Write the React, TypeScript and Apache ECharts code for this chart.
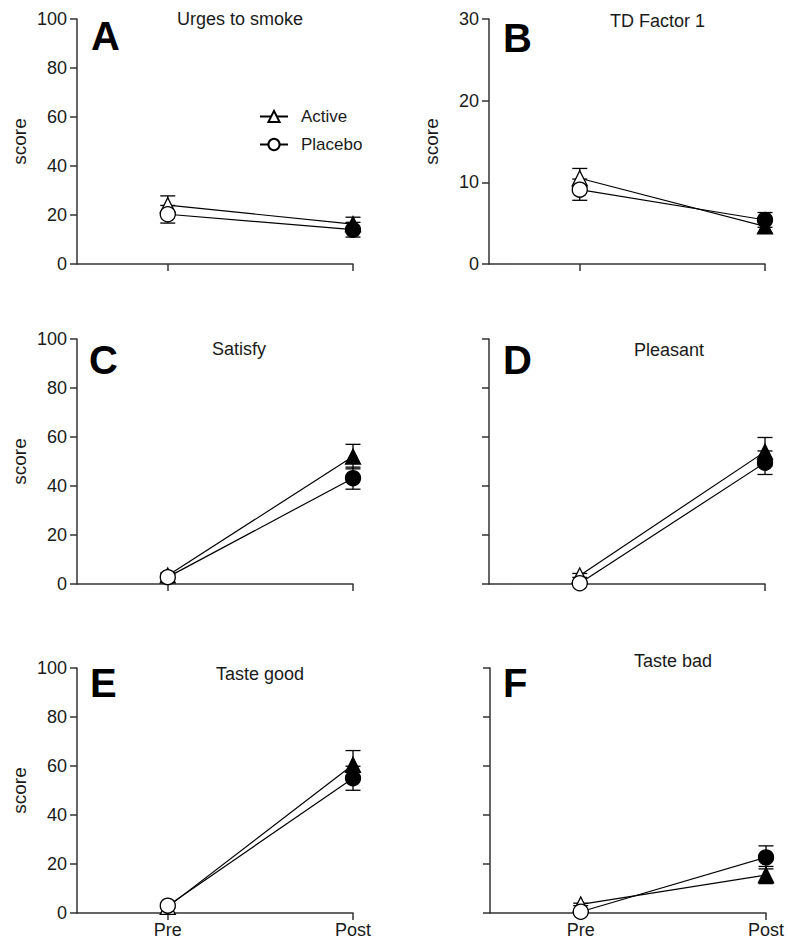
import React, { useEffect, useRef } from 'react';
import * as echarts from 'echarts';

const panelLetters = ['A', 'B', 'C', 'D', 'E', 'F'];
const panelTitles = ['Urges to smoke', 'TD Factor 1', 'Satisfy', 'Pleasant', 'Taste good', 'Taste bad'];
const timepoints = ['Pre', 'Post'];
const seriesNames = ['Active', 'Placebo'];
const yMax = [100, 30, 100, 100, 100, 100];
const yStep = [20, 10, 20, 20, 20, 20];
// [Pre, Post] per panel
const activeMean = [[24, 16.3], [10.5, 4.6], [3.5, 52], [3.5, 54], [2.5, 60.5], [3.5, 15.5]];
const activeSem = [[3.8, 2.8], [1.2, 0.8], [1, 5], [0.8, 5.8], [0.5, 5.8], [0.5, 3.5]];
const placeboMean = [[20.3, 14], [9.1, 5.4], [2.8, 43.2], [0.3, 49.5], [3, 55], [0.5, 22.7]];
const placeboSem = [[3.6, 3], [1.3, 0.9], [1, 4.5], [0.3, 4.8], [0.5, 4.9], [0.3, 4.7]];

const FONT = '"Liberation Sans", Arial, Helvetica, sans-serif';
const INK = '#1a1a1a';

const layout = [
  { left: 77, top: 19, title: [177, 10], letter: [91, 16], yLabels: true, xLabels: false },
  { left: 489, top: 19, title: [610, 12], letter: [503, 18], yLabels: true, xLabels: false },
  { left: 77, top: 339, title: [212, 340], letter: [89, 340], yLabels: true, xLabels: false },
  { left: 489, top: 339, title: [634, 341], letter: [503, 340], yLabels: false, xLabels: false },
  { left: 77, top: 668, title: [216, 665], letter: [90, 663], yLabels: true, xLabels: true },
  { left: 490, top: 668, title: [634, 652], letter: [503, 663], yLabels: false, xLabels: true },
];
const GRID_W = 276;
const GRID_H = 245;

function buildOption() {
  const grid: any[] = [];
  const xAxis: any[] = [];
  const yAxis: any[] = [];
  const series: any[] = [];
  const title: any[] = [];
  const axisLineStyle = { color: '#333', width: 1.5 };

  layout.forEach((L, i) => {
    grid.push({ left: L.left, top: L.top, width: GRID_W, height: GRID_H, containLabel: false });
    xAxis.push({
      gridIndex: i,
      type: 'value',
      min: -0.49,
      max: 1,
      splitLine: { show: false },
      axisLine: { show: true, onZero: false, lineStyle: axisLineStyle },
      axisTick: { show: true, length: 7, lineStyle: axisLineStyle, customValues: [0, 1] },
      axisLabel: {
        show: L.xLabels,
        customValues: [0, 1],
        formatter: (v: number) => timepoints[Math.round(v)] ?? '',
        fontSize: 18,
        fontFamily: FONT,
        color: INK,
        margin: 8,
      },
    });
    yAxis.push({
      gridIndex: i,
      type: 'value',
      min: 0,
      max: yMax[i],
      interval: yStep[i],
      splitLine: { show: false },
      axisLine: { show: true, onZero: false, lineStyle: axisLineStyle },
      axisTick: { show: true, length: 7, lineStyle: axisLineStyle },
      axisLabel: { show: L.yLabels, fontSize: 18, fontFamily: FONT, color: INK, margin: 10 },
      name: L.yLabels ? 'score' : '',
      nameLocation: 'middle',
      nameGap: 48,
      nameTextStyle: { fontSize: 19, fontFamily: FONT, color: INK },
    });
    title.push({
      text: panelTitles[i],
      left: L.title[0],
      top: L.title[1],
      padding: 0,
      textStyle: { fontSize: 18, fontWeight: 'normal', fontFamily: FONT, color: INK },
    });
    title.push({
      text: panelLetters[i],
      left: L.letter[0],
      top: L.letter[1],
      padding: 0,
      textStyle: { fontSize: 40, fontWeight: 'bold', fontFamily: FONT, color: '#000' },
    });

    const groups = [
      { name: seriesNames[0], mean: activeMean[i], sem: activeSem[i], symbol: 'triangle', size: 15 },
      { name: seriesNames[1], mean: placeboMean[i], sem: placeboSem[i], symbol: 'circle', size: 15 },
    ];
    groups.forEach((g) => {
      series.push({
        type: 'custom',
        name: g.name + ' SEM',
        xAxisIndex: i,
        yAxisIndex: i,
        z: 1,
        silent: true,
        encode: { x: 0, y: [1, 2] },
        data: g.mean.map((m, k) => [k, m - g.sem[k], m + g.sem[k]]),
        renderItem: (params: any, api: any) => {
          const x = api.value(0);
          const a = api.coord([x, api.value(1)]);
          const b = api.coord([x, api.value(2)]);
          const w = 7.5;
          const style = { stroke: '#000', lineWidth: 1.3, fill: 'none' };
          return {
            type: 'group',
            children: [
              { type: 'line', shape: { x1: a[0], y1: a[1], x2: b[0], y2: b[1] }, style },
              { type: 'line', shape: { x1: a[0] - w, y1: a[1], x2: a[0] + w, y2: a[1] }, style },
              { type: 'line', shape: { x1: b[0] - w, y1: b[1], x2: b[0] + w, y2: b[1] }, style },
            ],
          };
        },
      });
    });
    groups.forEach((g) => {
      series.push({
        type: 'line',
        name: g.name,
        xAxisIndex: i,
        yAxisIndex: i,
        z: 3,
        silent: true,
        symbol: g.symbol,
        symbolSize: g.size,
        lineStyle: { color: '#000', width: 1.2 },
        itemStyle: { color: '#fff', borderColor: '#000', borderWidth: 1.3 },
        emphasis: { disabled: true },
        data: g.mean.map((m, k) => ({
          value: [k, m],
          itemStyle: { color: k === 0 ? '#fff' : '#000' },
        })),
      });
    });
  });

  return {
    animation: false,
    backgroundColor: '#fff',
    title,
    grid,
    xAxis,
    yAxis,
    series,
    legend: {
      data: seriesNames,
      orient: 'vertical',
      left: 254,
      top: 103,
      itemWidth: 28,
      itemHeight: 14,
      itemGap: 11,
      selectedMode: false,
      textStyle: { fontSize: 17, fontFamily: FONT, color: INK, padding: [0, 0, 0, 8] },
    },
  };
}

export default function App() {
  const ref = useRef<HTMLDivElement>(null);
  useEffect(() => {
    if (!ref.current) return;
    const chart = echarts.init(ref.current, undefined, { renderer: 'svg' });
    chart.setOption(buildOption() as any);
    return () => chart.dispose();
  }, []);
  return (
    <div
      ref={ref}
      style={{ position: 'fixed', left: 0, top: 0, width: 788, height: 942, background: '#fff' }}
    />
  );
}
